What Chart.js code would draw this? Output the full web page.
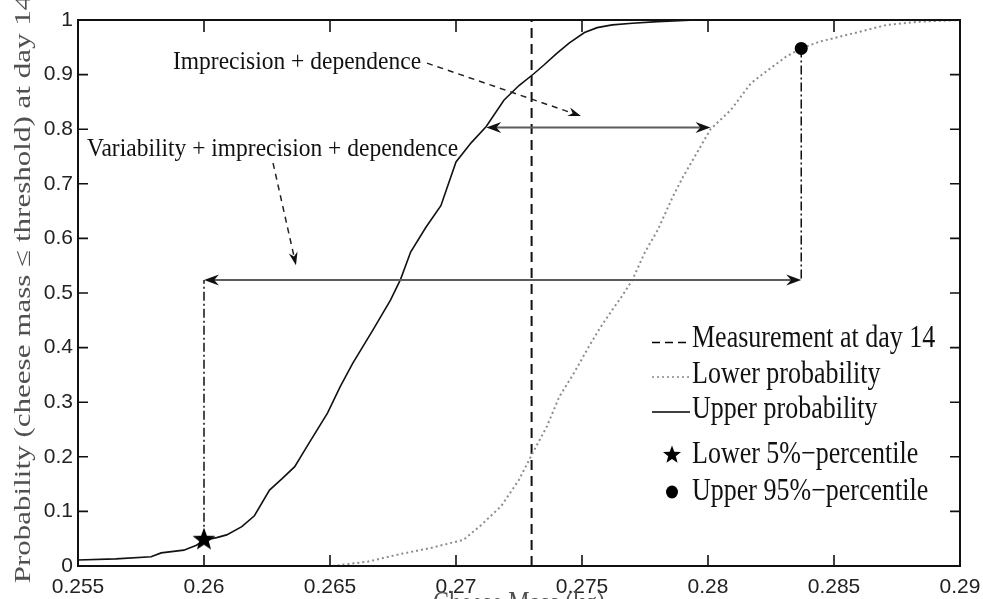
<!DOCTYPE html>
<html>
<head>
<meta charset="utf-8">
<script src="https://cdn.jsdelivr.net/npm/chart.js@4.4.1/dist/chart.umd.min.js"></script>
<style>
html,body{margin:0;padding:0;background:#fff;overflow:hidden;}
canvas{display:block;}
</style>
</head>
<body>
<canvas id="c" width="983" height="599"></canvas>
<script>
// ---------------- data ----------------
const xTickValues = [0.255, 0.26, 0.265, 0.27, 0.275, 0.28, 0.285, 0.29];
const xTickLabels = ['0.255', '0.26', '0.265', '0.27', '0.275', '0.28', '0.285', '0.29'];
const yTickValues = [0, 0.1, 0.2, 0.3, 0.4, 0.5, 0.6, 0.7, 0.8, 0.9, 1];
const yTickLabels = ['0', '0.1', '0.2', '0.3', '0.4', '0.5', '0.6', '0.7', '0.8', '0.9', '1'];

// Upper probability (solid)
const upperMass = [0.2550, 0.2565, 0.2579, 0.2583, 0.2592, 0.2597, 0.2600, 0.2605, 0.2609, 0.2615,
                   0.2620, 0.2626, 0.2631, 0.2636, 0.2641, 0.2649, 0.2654, 0.2659, 0.2667, 0.2674,
                   0.2678, 0.2682, 0.2688, 0.2694, 0.2700, 0.2706, 0.2712, 0.2719, 0.2725, 0.2731,
                   0.2735, 0.2740, 0.2745, 0.2751, 0.2756, 0.2762, 0.2770, 0.2780, 0.2795, 0.2900];
const upperProb = [0.011, 0.013, 0.017, 0.024, 0.029, 0.038, 0.047, 0.052, 0.057, 0.072,
                   0.092, 0.139, 0.160, 0.182, 0.220, 0.280, 0.328, 0.371, 0.432, 0.487,
                   0.525, 0.575, 0.620, 0.660, 0.740, 0.775, 0.805, 0.853, 0.880, 0.902,
                   0.918, 0.939, 0.958, 0.977, 0.986, 0.991, 0.994, 0.997, 1.000, 1.000];

// Lower probability (dotted)
const lowerMass = [0.2651, 0.2665, 0.2678, 0.2690, 0.2703, 0.2710, 0.2718, 0.2725, 0.2731, 0.2736,
                   0.2741, 0.2747, 0.2752, 0.2757, 0.2762, 0.2766, 0.2770, 0.2775, 0.2780, 0.2786,
                   0.2790, 0.2794, 0.2801, 0.2809, 0.2817, 0.2822, 0.2831, 0.2837, 0.2844, 0.2858,
                   0.2871, 0.2884, 0.2900];
const lowerProb = [0.000, 0.008, 0.022, 0.033, 0.048, 0.075, 0.110, 0.158, 0.212, 0.255,
                   0.310, 0.355, 0.396, 0.435, 0.469, 0.495, 0.524, 0.575, 0.615, 0.676,
                   0.712, 0.744, 0.800, 0.835, 0.884, 0.902, 0.933, 0.948, 0.960, 0.976,
                   0.991, 0.997, 1.000];

const measurementMass = 0.273;
const lower5Mass = 0.2600, lower5Prob = 0.05;
const upper95Mass = 0.2837, upper95Prob = 0.948;

// double arrows (mass ranges at given probability levels)
const spanLevels = [0.803, 0.524];
const spanStart = [0.2712, 0.2600];
const spanEnd = [0.2801, 0.2837];

// callouts
const calloutTexts = ['Imprecision + dependence', 'Variability + imprecision + dependence'];
const calloutTextMass = [0.25877, 0.25536];
const calloutTextProb = [0.9097, 0.751];
const calloutFromMass = [0.26885, 0.26274];
const calloutFromProb = [0.921, 0.738];
const calloutToMass = [0.27496, 0.26365];
const calloutToProb = [0.824, 0.551];

const legendLabels = ['Measurement at day 14', 'Lower probability', 'Upper probability',
                      'Lower 5%\u2212percentile', 'Upper 95%\u2212percentile'];
const xTitle = 'Cheese Mass (kg)';
const yTitle = 'Probability (cheese mass \u2264 threshold) at day 14';

// ---------------- helpers ----------------
const SERIF = '"Liberation Serif","Times New Roman",serif';
const SANS = '"Liberation Sans",Arial,sans-serif';

function starPath(ctx, cx, cy, R, r) {
  ctx.beginPath();
  for (let i = 0; i < 10; i++) {
    const ang = -Math.PI / 2 + i * Math.PI / 5;
    const rad = (i % 2) ? r : R;
    ctx.lineTo(cx + rad * Math.cos(ang), cy + rad * Math.sin(ang));
  }
  ctx.closePath();
}
function makeStar(R) {
  const c = document.createElement('canvas');
  const s = Math.ceil(R * 2 + 2);
  c.width = s; c.height = s;
  const g = c.getContext('2d');
  g.fillStyle = '#000';
  starPath(g, s / 2, s / 2 + 1, R, R * 0.42);
  g.fill();
  return c;
}
function stretchedText(ctx, str, x, y, size, sy, color, align) {
  ctx.save();
  ctx.translate(x, y);
  ctx.scale(1, sy);
  ctx.font = size + 'px ' + SERIF;
  ctx.fillStyle = color || '#111';
  ctx.textAlign = align || 'left';
  ctx.textBaseline = 'alphabetic';
  ctx.fillText(str, 0, 0);
  ctx.restore();
}
function arrowHead(ctx, x, y, ang, L, W) {
  ctx.save();
  ctx.translate(x, y);
  ctx.rotate(ang);
  ctx.beginPath();
  ctx.moveTo(0, 0);
  ctx.lineTo(-L, -W);
  ctx.lineTo(-L * 0.68, 0);
  ctx.lineTo(-L, W);
  ctx.closePath();
  ctx.fill();
  ctx.restore();
}

const decor = {
  id: 'decor',
  afterDatasetsDraw(chart) {
    const {ctx, chartArea: a, scales: {x, y}} = chart;
    const X = v => x.getPixelForValue(v), Y = v => y.getPixelForValue(v);
    ctx.save();

    // double-headed span arrows
    for (let i = 0; i < spanLevels.length; i++) {
      const yy = Y(spanLevels[i]), x0 = X(spanStart[i]), x1 = X(spanEnd[i]);
      ctx.setLineDash([]);
      ctx.strokeStyle = '#5c5c5c';
      ctx.lineWidth = 2;
      ctx.beginPath(); ctx.moveTo(x0 + 6, yy); ctx.lineTo(x1 - 6, yy); ctx.stroke();
      ctx.fillStyle = '#111';
      arrowHead(ctx, x0, yy, Math.PI, 15, 5.5);
      arrowHead(ctx, x1, yy, 0, 15, 5.5);
    }

    // dashed callout arrows
    for (let i = 0; i < calloutTexts.length; i++) {
      const fx = X(calloutFromMass[i]), fy = Y(calloutFromProb[i]);
      const tx = X(calloutToMass[i]), ty = Y(calloutToProb[i]);
      const ang = Math.atan2(ty - fy, tx - fx);
      ctx.strokeStyle = '#222';
      ctx.lineWidth = 1.5;
      ctx.setLineDash([6, 5]);
      ctx.beginPath();
      ctx.moveTo(fx, fy);
      ctx.lineTo(tx - 9 * Math.cos(ang), ty - 9 * Math.sin(ang));
      ctx.stroke();
      ctx.setLineDash([]);
      ctx.fillStyle = '#111';
      arrowHead(ctx, tx, ty, ang, 13, 4.5);
      stretchedText(ctx, calloutTexts[i], X(calloutTextMass[i]), Y(calloutTextProb[i]), 23.5, 1.1, '#111');
    }

    // legend
    const lx0 = a.left + 574, lx1 = a.left + 612, tx = a.left + 614;
    const rowLine = [a.top + 322.5, a.top + 357, a.top + 392];
    const rowBase = [a.top + 326.7, a.top + 363, a.top + 398, a.top + 443, a.top + 480];
    ctx.lineWidth = 1.5;
    ctx.strokeStyle = '#000';
    ctx.setLineDash([8, 5]);
    ctx.beginPath(); ctx.moveTo(lx0, rowLine[0]); ctx.lineTo(lx1, rowLine[0]); ctx.stroke();
    ctx.strokeStyle = '#888';
    ctx.setLineDash([2, 3]);
    ctx.beginPath(); ctx.moveTo(lx0, rowLine[1]); ctx.lineTo(lx1, rowLine[1]); ctx.stroke();
    ctx.strokeStyle = '#000';
    ctx.setLineDash([]);
    ctx.beginPath(); ctx.moveTo(lx0, rowLine[2]); ctx.lineTo(lx1, rowLine[2]); ctx.stroke();
    ctx.fillStyle = '#000';
    starPath(ctx, a.left + 594, a.top + 435, 9.5, 4);
    ctx.fill();
    ctx.beginPath(); ctx.ellipse(a.left + 594, a.top + 472, 6, 6.5, 0, 0, Math.PI * 2); ctx.fill();
    for (let i = 0; i < legendLabels.length; i++) {
      stretchedText(ctx, legendLabels[i], tx, rowBase[i], 26, 1.2, '#111');
    }

    // frame with inward ticks on all sides
    ctx.setLineDash([]);
    ctx.strokeStyle = '#111';
    ctx.lineWidth = 2;
    ctx.strokeRect(a.left, a.top, a.right - a.left, a.bottom - a.top);
    ctx.lineWidth = 1.6;
    ctx.beginPath();
    x.ticks.forEach(t => {
      const p = X(t.value);
      ctx.moveTo(p, a.bottom); ctx.lineTo(p, a.bottom - 11);
      ctx.moveTo(p, a.top); ctx.lineTo(p, a.top + 12);
    });
    y.ticks.forEach(t => {
      const p = Y(t.value);
      ctx.moveTo(a.left, p); ctx.lineTo(a.left + 10, p);
      ctx.moveTo(a.right, p); ctx.lineTo(a.right - 10, p);
    });
    ctx.stroke();

    // axis titles (stretched like the reference)
    ctx.save();
    ctx.translate(30, (a.top + a.bottom) / 2 - 4);
    ctx.rotate(-Math.PI / 2);
    ctx.scale(1.35, 1);
    ctx.font = '23px ' + SERIF;
    ctx.fillStyle = '#505050';
    ctx.textAlign = 'center';
    ctx.textBaseline = 'alphabetic';
    ctx.fillText(yTitle, 0, 0);
    ctx.restore();
    stretchedText(ctx, xTitle, (a.left + a.right) / 2, a.bottom + 47, 24, 1.3, '#505050', 'center');

    ctx.restore();
  }
};

const pts = (xs, ys) => xs.map((v, i) => ({x: v, y: ys[i]}));

new Chart(document.getElementById('c'), {
  type: 'scatter',
  data: {
    datasets: [
      {label: legendLabels[3], data: [{x: lower5Mass, y: lower5Prob}], pointStyle: makeStar(12),
       pointRadius: 12, showLine: false},
      {label: legendLabels[4], data: [{x: upper95Mass, y: upper95Prob}], pointStyle: 'circle',
       pointRadius: 6.5, backgroundColor: '#000', borderColor: '#000', borderWidth: 0, showLine: false},
      {label: legendLabels[2], data: pts(upperMass, upperProb), showLine: true, borderColor: '#111',
       borderWidth: 1.6, pointRadius: 0, tension: 0},
      {label: legendLabels[1], data: pts(lowerMass, lowerProb), showLine: true, borderColor: '#8c8c8c',
       borderWidth: 2, borderDash: [2, 3], pointRadius: 0, tension: 0},
      {label: legendLabels[0], data: [{x: measurementMass, y: 0}, {x: measurementMass, y: 1}],
       showLine: true, borderColor: '#111', borderWidth: 2, borderDash: [10, 6], pointRadius: 0},
      {label: 'lower5 guide', data: [{x: lower5Mass, y: lower5Prob}, {x: lower5Mass, y: spanLevels[1]}],
       showLine: true, borderColor: '#111', borderWidth: 1.5, borderDash: [9, 3, 2, 3], pointRadius: 0},
      {label: 'upper95 guide', data: [{x: upper95Mass, y: upper95Prob}, {x: upper95Mass, y: spanLevels[1]}],
       showLine: true, borderColor: '#111', borderWidth: 1.5, borderDash: [9, 3, 2, 3], pointRadius: 0}
    ]
  },
  options: {
    responsive: false,
    animation: false,
    devicePixelRatio: 1,
    layout: {padding: {top: 20, right: 23, left: 0, bottom: 0}},
    plugins: {legend: {display: false}, tooltip: {enabled: false}},
    scales: {
      x: {
        type: 'linear', min: 0.255, max: 0.29,
        afterBuildTicks: s => { s.ticks = xTickValues.map(v => ({value: v})); },
        afterFit: s => { s.height = 33; s.paddingLeft = 0; s.paddingRight = 0; },
        ticks: {
          callback: (v, i) => xTickLabels[i],
          autoSkip: false, maxRotation: 0, padding: 9, color: '#222',
          font: {family: SANS, size: 21}
        },
        grid: {display: false, drawTicks: false},
        border: {display: false}
      },
      y: {
        type: 'linear', min: 0, max: 1,
        afterBuildTicks: s => { s.ticks = yTickValues.map(v => ({value: v})); },
        afterFit: s => { s.width = 78; s.paddingTop = 0; s.paddingBottom = 0; },
        ticks: {
          callback: (v, i) => yTickLabels[i],
          autoSkip: false, padding: 5, color: '#222',
          font: {family: SANS, size: 21}
        },
        grid: {display: false, drawTicks: false},
        border: {display: false}
      }
    }
  },
  plugins: [decor]
});
</script>
</body>
</html>
